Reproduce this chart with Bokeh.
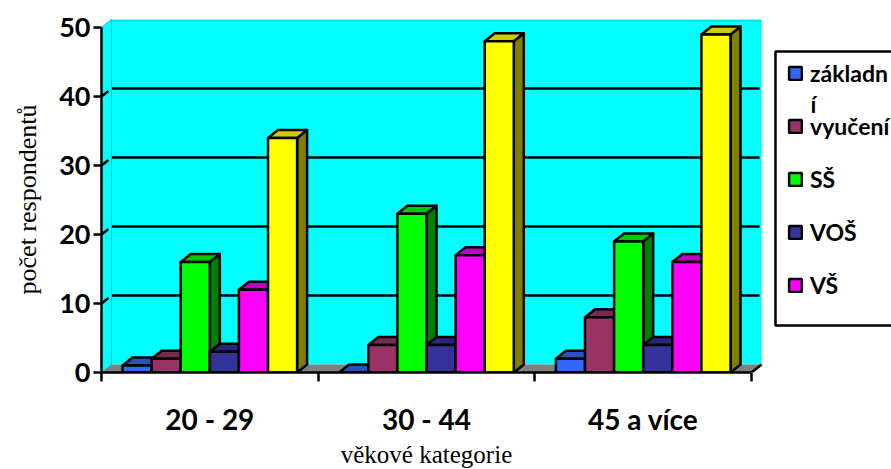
import math
from bokeh.embed import file_html
from bokeh.resources import INLINE
from bokeh.plotting import figure
from bokeh.models import (ColumnDataSource, FixedTicker, Legend, LegendItem,
                          LinearAxis, Range1d, Label)

categories = ["20 - 29", "30 - 44", "45 a více"]
series_names = ["základn", "vyučení", "SŠ", "VOŠ", "VŠ", ""]
zakladni = [1, 0, 2]
vyuceni = [2, 4, 8]
ss = [16, 23, 19]
vos = [3, 4, 4]
vs = [12, 17, 16]
last = [34, 48, 49]
y_ticks = [0, 10, 20, 30, 40, 50]
front = ["#3366FF", "#993366", "#00FF00", "#333399", "#FF00FF", "#FFFF00"]
top_col = ["#2A50C4", "#7A2952", "#00C800", "#28287A", "#C000C0", "#CCCC00"]
side_col = ["#1E3C99", "#5C1F3D", "#008000", "#1E1E5C", "#800080", "#808000"]
series = [zakladni, vyuceni, ss, vos, vs, last]

PX_X = 216.7
PX_Y = 6.9
DX = 10 / PX_X
DY = 8 / PX_Y
LEFT, BOTTOM = 101, 97
W, H = 891, 469
BAR = 29.1 / PX_X
OFF = 21 / PX_X

p = figure(width=W, height=H, output_backend="svg", toolbar_location=None,
           x_range=Range1d(0, (W - LEFT) / PX_X),
           y_range=Range1d(0, (H - BOTTOM) / PX_Y),
           x_axis_location=None, y_axis_location=None,
           min_border_left=LEFT, min_border_bottom=BOTTOM,
           min_border_top=0, min_border_right=0, outline_line_color=None)
p.grid.visible = False

n = len(categories)
p.patch([DX, n + DX, n + DX, DX], [DY, DY, 50 + DY, 50 + DY], fill_color="#00FFFF", line_color=None)
p.patch([0, DX, DX, 0], [0, DY, 50 + DY, 50], fill_color="#00FFFF", line_color="#00CCCC", line_width=1)
p.line([DX, n + DX], [50 + DY - 0.2, 50 + DY - 0.2], line_color="#00CCCC", line_width=1)
p.patch([0, n, n + DX, DX], [0, 0, DY, DY], fill_color="#808080", line_color=None)
for v in y_ticks[1:-1]:
    p.line([DX * 1.05, n + DX * 0.8], [v + DY, v + DY], line_color="black", line_width=2.5)
    p.line([0, DX * 0.7], [v, v + DY * 0.7], line_color="black", line_width=2.5)
p.line([n, n + DX], [0, DY], line_color="black", line_width=2.5)

p.quad(left=(775 - LEFT) / PX_X, right=(W - LEFT + 30) / PX_X, bottom=(372 - 325) / PX_Y, top=(372 - 51) / PX_Y,
       fill_color="white", line_color="black", line_width=2.5)

renderers = []
for i, vals in enumerate(series):
    lefts = [g + OFF + i * BAR for g in range(n)]
    rights = [l + BAR for l in lefts]
    p.patches([[r, r + DX, r + DX, r] for r in rights],
              [[0, DY, v + DY, v] for v in vals],
              fill_color=side_col[i], line_color="black", line_width=2.5, line_join="round")
    p.patches([[l, r, r + DX, l + DX] for l, r in zip(lefts, rights)],
              [[v, v, v + DY, v + DY] for v in vals],
              fill_color=top_col[i], line_color="black", line_width=2.5, line_join="round")
    src = ColumnDataSource(dict(left=lefts, right=rights, top=vals, bottom=[0] * n))
    r = p.quad(left="left", right="right", top="top", bottom="bottom", source=src,
               fill_color=front[i], line_color="black", line_width=2.5)
    renderers.append(r)

yax = LinearAxis(ticker=FixedTicker(ticks=y_ticks), bounds=(0, 50),
                 major_label_text_font="Lato", major_label_text_font_size="27px",
                 major_label_text_font_style="bold", major_label_text_color="black",
                 major_label_standoff=3,
                 major_tick_in=0, major_tick_out=8, minor_tick_out=0, minor_tick_in=0,
                 axis_line_width=2.5, major_tick_line_width=2.5)
p.add_layout(yax, "left")

centers = [g + 0.5 for g in range(n)]
xax = LinearAxis(ticker=FixedTicker(ticks=centers, minor_ticks=list(range(n + 1))),
                 bounds=(0, n),
                 major_label_overrides={c: t for c, t in zip(centers, categories)},
                 major_label_text_font="Lato", major_label_text_font_size="28px",
                 major_label_text_font_style="bold", major_label_text_color="black",
                 major_label_standoff=20,
                 major_tick_in=0, major_tick_out=0, minor_tick_in=0, minor_tick_out=9,
                 axis_line_width=2.5, minor_tick_line_width=2.5)
p.add_layout(xax, "below")

p.add_layout(Label(x=426 - LEFT, y=11, x_units="screen", y_units="screen", text="věkové kategorie",
                   text_font="Liberation Serif", text_font_size="25px", text_color="black",
                   text_align="center", text_baseline="middle"), "below")
p.add_layout(Label(x=0, y=372 - 199, x_units="screen", y_units="screen", text="počet respondentů",
                   angle=math.pi / 2, text_font="Liberation Serif", text_font_size="26px", text_color="black",
                   text_align="center", text_baseline="middle"), "left")

items = [LegendItem(label=series_names[i], renderers=[renderers[i]]) for i in range(5)]
legend = Legend(items=items, location=(686, 73), orientation="vertical",
                border_line_color=None, background_fill_alpha=0,
                glyph_width=16, glyph_height=16, label_height=16,
                spacing=25, padding=0, margin=0, label_standoff=7,
                label_text_font="Lato", label_text_font_size="23px",
                label_text_font_style="bold", label_text_color="black")
p.add_layout(legend, "center")
p.add_layout(Label(x=810 - LEFT, y=372 - 103, x_units="screen", y_units="screen", text="í",
                   text_font="Lato", text_font_size="23px", text_font_style="bold",
                   text_color="black", text_baseline="middle"))

open("out.html", "w").write(file_html(p, INLINE))
